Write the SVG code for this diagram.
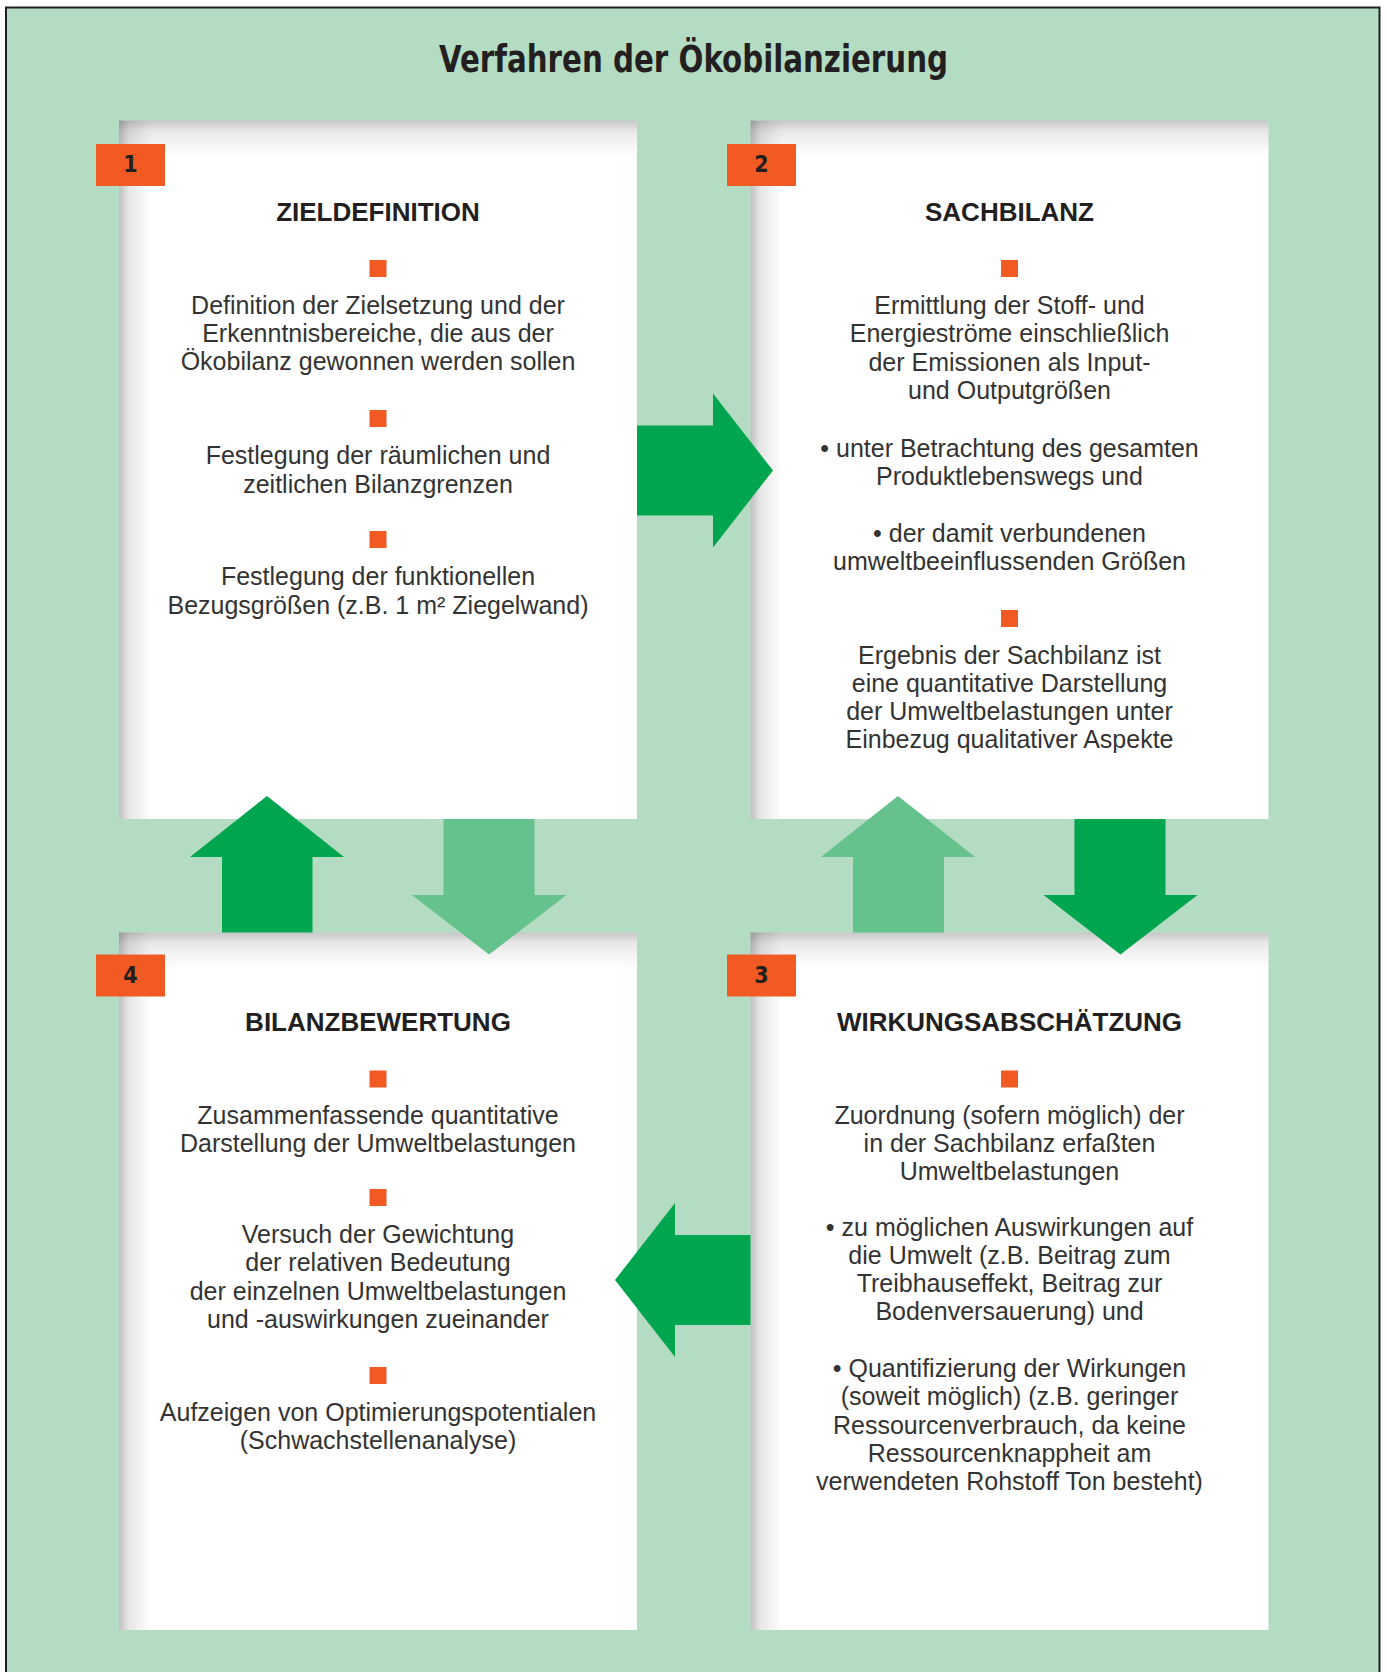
<svg xmlns="http://www.w3.org/2000/svg" width="1388" height="1672" viewBox="0 0 1388 1672">
<style>
.bg{fill:#b3dcc2}
.frame{fill:none;stroke:#231f20;stroke-width:2}
.box{fill:#ffffff}
.badge{fill:#f15a22}
.sq{fill:#f15a22}
.num{font-family:"DejaVu Sans Condensed","DejaVu Sans",sans-serif;font-stretch:condensed;font-weight:bold;font-size:23px;fill:#231f20;text-anchor:middle}
.title{font-family:"DejaVu Sans Condensed","DejaVu Sans",sans-serif;font-stretch:condensed;font-weight:bold;font-size:37px;fill:#231f20;text-anchor:middle}
.head{font-family:"Liberation Sans",Arial,sans-serif;font-weight:bold;font-size:26px;fill:#231f20;text-anchor:middle}
.body{font-family:"Liberation Sans",Arial,sans-serif;font-size:25px;fill:#333333;text-anchor:middle}
.dark{fill:#00a54f}
.light{fill:#65c28d}
</style>
<defs>
<linearGradient id="shL" x1="0" y1="0" x2="1" y2="0">
<stop offset="0" stop-color="#000" stop-opacity="0.25"/>
<stop offset="0.3" stop-color="#000" stop-opacity="0.1"/>
<stop offset="1" stop-color="#000" stop-opacity="0"/>
</linearGradient>
<linearGradient id="shT" x1="0" y1="0" x2="0" y2="1">
<stop offset="0" stop-color="#000" stop-opacity="0.22"/>
<stop offset="0.3" stop-color="#000" stop-opacity="0.09"/>
<stop offset="1" stop-color="#000" stop-opacity="0"/>
</linearGradient>
</defs>
<rect x="0" y="0" width="1388" height="1672" fill="#ffffff"/>
<rect class="bg" x="6" y="7.5" width="1373.5" height="1680"/>
<rect class="frame" x="6" y="7.5" width="1373.5" height="1680"/>
<text class="title" x="693.5" y="72" textLength="509" lengthAdjust="spacingAndGlyphs">Verfahren der Ökobilanzierung</text>

<g id="node1">
<rect class="box" x="119" y="120.5" width="518" height="698.5"/>
<rect x="119" y="120.5" width="32" height="698.5" fill="url(#shL)"/>
<rect x="119" y="120.5" width="518" height="36" fill="url(#shT)"/>
<rect class="badge" x="96" y="144" width="69" height="42"/>
<text class="num" x="130.5" y="172">1</text>
<text class="head" x="378" y="220.7">ZIELDEFINITION</text>
<rect class="sq" x="369.5" y="260" width="17" height="17"/>
<text class="body" x="378" y="314">Definition der Zielsetzung und der</text>
<text class="body" x="378" y="342">Erkenntnisbereiche, die aus der</text>
<text class="body" x="378" y="370">Ökobilanz gewonnen werden sollen</text>
<rect class="sq" x="369.5" y="410" width="17" height="17"/>
<text class="body" x="378" y="464">Festlegung der räumlichen und</text>
<text class="body" x="378" y="492.5">zeitlichen Bilanzgrenzen</text>
<rect class="sq" x="369.5" y="531" width="17" height="17"/>
<text class="body" x="378" y="585">Festlegung der funktionellen</text>
<text class="body" x="378" y="613.5">Bezugsgrößen (z.B. 1 m² Ziegelwand)</text>
</g>

<g id="node2">
<rect class="box" x="750.5" y="120.5" width="518" height="698.5"/>
<rect x="750.5" y="120.5" width="32" height="698.5" fill="url(#shL)"/>
<rect x="750.5" y="120.5" width="518" height="36" fill="url(#shT)"/>
<rect class="badge" x="727" y="144" width="69" height="42"/>
<text class="num" x="761.5" y="172">2</text>
<text class="head" x="1009.5" y="220.7">SACHBILANZ</text>
<rect class="sq" x="1001" y="260" width="17" height="17"/>
<text class="body" x="1009.5" y="314">Ermittlung der Stoff- und</text>
<text class="body" x="1009.5" y="342.3">Energieströme einschließlich</text>
<text class="body" x="1009.5" y="370.6">der Emissionen als Input-</text>
<text class="body" x="1009.5" y="398.9">und Outputgrößen</text>
<text class="body" x="1009.5" y="456.8">• unter Betrachtung des gesamten</text>
<text class="body" x="1009.5" y="485.2">Produktlebenswegs und</text>
<text class="body" x="1009.5" y="542">• der damit verbundenen</text>
<text class="body" x="1009.5" y="570.4">umweltbeeinflussenden Größen</text>
<rect class="sq" x="1001" y="610" width="17" height="17"/>
<text class="body" x="1009.5" y="663.5">Ergebnis der Sachbilanz ist</text>
<text class="body" x="1009.5" y="691.8">eine quantitative Darstellung</text>
<text class="body" x="1009.5" y="720.1">der Umweltbelastungen unter</text>
<text class="body" x="1009.5" y="748.4">Einbezug qualitativer Aspekte</text>
</g>

<g id="node3">
<rect class="box" x="750.5" y="932.5" width="518" height="697.5"/>
<rect x="750.5" y="932.5" width="32" height="697.5" fill="url(#shL)"/>
<rect x="750.5" y="932.5" width="518" height="36" fill="url(#shT)"/>
<g transform="translate(0,-2)">
<rect class="badge" x="727" y="956.5" width="69" height="42"/>
<text class="num" x="761.5" y="984.5">3</text>
<text class="head" x="1009.5" y="1033.2">WIRKUNGSABSCHÄTZUNG</text>
<rect class="sq" x="1001" y="1072.5" width="17" height="17"/>
<text class="body" x="1009.5" y="1125.5">Zuordnung (sofern möglich) der</text>
<text class="body" x="1009.5" y="1153.8">in der Sachbilanz erfaßten</text>
<text class="body" x="1009.5" y="1182.1">Umweltbelastungen</text>
<text class="body" x="1009.5" y="1237.5">• zu möglichen Auswirkungen auf</text>
<text class="body" x="1009.5" y="1265.8">die Umwelt (z.B. Beitrag zum</text>
<text class="body" x="1009.5" y="1294.1">Treibhauseffekt, Beitrag zur</text>
<text class="body" x="1009.5" y="1322.4">Bodenversauerung) und</text>
<text class="body" x="1009.5" y="1379">• Quantifizierung der Wirkungen</text>
<text class="body" x="1009.5" y="1407.3">(soweit möglich) (z.B. geringer</text>
<text class="body" x="1009.5" y="1435.6">Ressourcenverbrauch, da keine</text>
<text class="body" x="1009.5" y="1463.9">Ressourcenknappheit am</text>
<text class="body" x="1009.5" y="1492.2">verwendeten Rohstoff Ton besteht)</text>
</g>
</g>

<g id="node4">
<rect class="box" x="119" y="932.5" width="518" height="697.5"/>
<rect x="119" y="932.5" width="32" height="697.5" fill="url(#shL)"/>
<rect x="119" y="932.5" width="518" height="36" fill="url(#shT)"/>
<g transform="translate(0,-2)">
<rect class="badge" x="96" y="956.5" width="69" height="42"/>
<text class="num" x="130.5" y="984.5">4</text>
<text class="head" x="378" y="1033.2">BILANZBEWERTUNG</text>
<rect class="sq" x="369.5" y="1072.5" width="17" height="17"/>
<text class="body" x="378" y="1125.5">Zusammenfassende quantitative</text>
<text class="body" x="378" y="1153.8">Darstellung der Umweltbelastungen</text>
<rect class="sq" x="369.5" y="1191" width="17" height="17"/>
<text class="body" x="378" y="1245">Versuch der Gewichtung</text>
<text class="body" x="378" y="1273.3">der relativen Bedeutung</text>
<text class="body" x="378" y="1301.6">der einzelnen Umweltbelastungen</text>
<text class="body" x="378" y="1329.9">und -auswirkungen zueinander</text>
<rect class="sq" x="369.5" y="1369" width="17" height="17"/>
<text class="body" x="378" y="1423">Aufzeigen von Optimierungspotentialen</text>
<text class="body" x="378" y="1451.3">(Schwachstellenanalyse)</text>
</g>
</g>

<g id="connectors">
<polygon class="dark" points="637,425.5 713,425.5 713,393.5 773,470.5 713,547.5 713,515.5 637,515.5"/>
<polygon class="dark" points="750.5,1235 675,1235 675,1203 615,1280 675,1357 675,1325 750.5,1325"/>
<polygon class="dark" points="222,932.5 222,857 190,857 267,796 344,857 312.5,857 312.5,932.5"/>
<polygon class="light" points="443.5,819 534.5,819 534.5,895 566.5,895 489,954.5 412,895 443.5,895"/>
<polygon class="light" points="853,932.5 853,857 821,857 898,796 975,857 944,857 944,932.5"/>
<polygon class="dark" points="1074.5,819 1165.5,819 1165.5,895 1197.5,895 1120.5,954.5 1043.5,895 1074.5,895"/>
</g>
</svg>
